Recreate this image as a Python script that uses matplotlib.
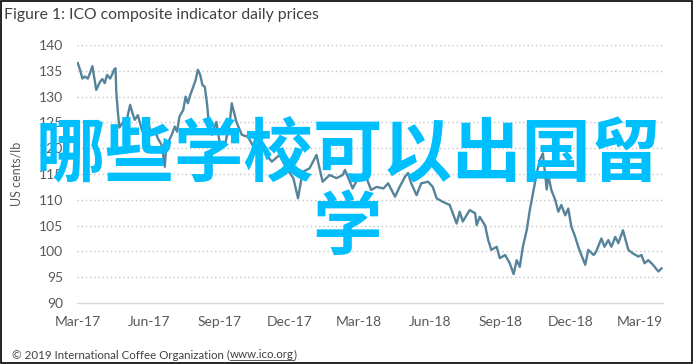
import matplotlib
matplotlib.use("Agg")
import matplotlib.pyplot as plt
import numpy as np
from matplotlib.patches import Rectangle

# ---- data ----
dates = [
    "2017-03-01", "2017-03-04", "2017-03-07", "2017-03-10", "2017-03-14", "2017-03-17",
    "2017-03-20", "2017-03-23", "2017-03-25", "2017-03-30", "2017-04-02", "2017-04-05",
    "2017-04-08", "2017-04-12", "2017-04-15", "2017-04-17", "2017-04-19", "2017-04-20",
    "2017-04-22", "2017-04-24", "2017-04-29", "2017-05-01", "2017-05-05", "2017-05-08",
    "2017-05-11", "2017-05-14", "2017-05-18", "2017-05-21", "2017-05-24", "2017-05-27",
    "2017-05-31", "2017-06-05", "2017-06-09", "2017-06-13", "2017-06-18", "2017-06-21",
    "2017-06-22", "2017-06-24", "2017-06-27", "2017-07-01", "2017-07-05", "2017-07-08",
    "2017-07-11", "2017-07-16", "2017-07-19", "2017-07-22", "2017-07-25", "2017-07-29",
    "2017-08-01", "2017-08-04", "2017-08-07", "2017-08-10", "2017-08-13", "2017-08-16",
    "2017-08-18", "2017-08-22", "2017-08-28", "2017-09-01", "2017-09-08", "2017-09-14",
    "2017-09-17", "2017-09-23", "2017-09-30", "2017-10-08", "2017-10-14", "2017-10-21",
    "2017-11-01", "2017-11-08", "2017-11-18", "2017-11-27", "2017-12-06", "2017-12-12",
    "2017-12-18", "2017-12-27", "2018-01-05", "2018-01-13", "2018-01-22", "2018-01-31",
    "2018-02-08", "2018-02-11", "2018-02-21", "2018-03-02", "2018-03-11", "2018-03-17",
    "2018-03-24", "2018-04-02", "2018-04-08", "2018-04-17", "2018-04-23", "2018-04-30",
    "2018-05-04", "2018-05-08", "2018-05-15", "2018-05-21", "2018-05-30", "2018-06-05",
    "2018-06-10", "2018-06-18", "2018-06-27", "2018-07-06", "2018-07-10", "2018-07-14",
    "2018-07-23", "2018-07-30", "2018-08-01", "2018-08-05", "2018-08-12", "2018-08-16",
    "2018-08-20", "2018-08-27", "2018-08-31", "2018-09-07", "2018-09-13", "2018-09-18",
    "2018-09-22", "2018-09-26", "2018-09-30", "2018-10-05", "2018-10-09", "2018-10-14",
    "2018-10-18", "2018-10-22", "2018-10-26", "2018-10-31", "2018-11-02", "2018-11-06",
    "2018-11-11", "2018-11-15", "2018-11-19", "2018-11-24", "2018-11-28", "2018-12-02",
    "2018-12-07", "2018-12-11", "2018-12-15", "2018-12-20", "2018-12-24", "2018-12-31",
    "2019-01-03", "2019-01-10", "2019-01-14", "2019-01-19", "2019-01-23", "2019-01-28",
    "2019-02-01", "2019-02-07", "2019-02-14", "2019-02-20", "2019-02-27", "2019-03-03",
    "2019-03-07", "2019-03-12", "2019-03-18", "2019-03-25", "2019-03-29",
]
prices = [
    136.5, 135.2, 133.5, 133.9, 133.5, 134.6,
    135.9, 133.2, 131.3, 132.9, 133.4, 132.6,
    134.2, 133.5, 134.4, 135.2, 135.5, 131.0,
    127.1, 124.0, 125.1, 123.2, 126.4, 128.4,
    126.8, 125.5, 126.4, 124.8, 123.2, 124.5,
    125.1, 122.6, 123.5, 121.9, 120.6, 117.4,
    116.4, 120.6, 121.3, 122.6, 124.2, 123.2,
    126.1, 127.4, 130.0, 128.7, 130.3, 131.9,
    133.2, 135.2, 134.2, 132.2, 131.9, 128.4,
    125.1, 122.6, 125.1, 121.3, 120.6, 124.5,
    128.7, 125.1, 122.6, 122.2, 120.6, 122.0,
    118.7, 117.4, 118.7, 116.1, 114.2, 110.3,
    115.4, 116.1, 118.7, 113.5, 114.8, 114.2,
    114.8, 115.8, 112.2, 114.8, 114.2, 111.9,
    112.5, 112.2, 113.2, 110.6, 112.5, 114.5,
    115.2, 113.2, 110.9, 113.2, 113.5, 112.5,
    110.3, 109.6, 109.0, 105.4, 107.7, 105.8,
    108.0, 107.4, 105.1, 106.7, 105.0, 102.2,
    100.3, 100.9, 98.7, 99.3, 97.7, 95.6,
    98.3, 97.0, 100.9, 104.1, 108.0, 111.9,
    115.1, 117.7, 119.0, 112.0, 114.8, 111.9,
    110.0, 107.7, 109.0, 107.0, 108.3, 104.8,
    102.8, 100.9, 99.3, 97.4, 100.3, 99.3,
    99.9, 102.5, 100.9, 102.2, 100.9, 102.8,
    101.6, 104.1, 100.3, 99.6, 99.0, 99.3,
    97.7, 98.3, 97.4, 96.1, 96.7,
]
tick_dates = ["2017-03-01", "2017-06-01", "2017-09-01", "2017-12-01", "2018-03-01",
              "2018-06-01", "2018-09-01", "2018-12-01", "2019-03-01"]
tick_labels = ["Mar-17", "Jun-17", "Sep-17", "Dec-17", "Mar-18",
               "Jun-18", "Sep-18", "Dec-18", "Mar-19"]
y_ticks = [90, 95, 100, 105, 110, 115, 120, 125, 130, 135, 140]

title = "Figure 1: ICO composite indicator daily prices"
ylabel = "US cents/lb"
footer = "\u00a9 2019 International Coffee Organization ("
footer_link = "www.ico.org"
overlay_line1 = "哪些学校可以出国留"
overlay_line2 = "学"

# ---- figure ----
plt.rcParams['font.family'] = ['Lato', 'DejaVu Sans']
W, H = 695, 364
fig = plt.figure(figsize=(W / 100, H / 100), dpi=100)
fig.patch.set_facecolor("white")

ax = fig.add_axes([77 / W, 1 - 303 / H, (663 - 77) / W, (303 - 45) / H])
x = np.array(dates, dtype="datetime64[D]")
ax.plot(x, prices, color="#55839a", lw=1.7, zorder=3, solid_joinstyle="round")

ax.set_ylim(90, 140)
ax.set_xlim(np.datetime64("2017-02-28"), np.datetime64("2019-03-31"))
ax.set_yticks(y_ticks)
ax.set_xticks(np.array(tick_dates, dtype="datetime64[D]"))
ax.set_xticklabels(tick_labels)
ax.tick_params(axis="both", length=0, labelsize=10, colors="#595959")
ax.tick_params(axis="y", pad=10)
ax.tick_params(axis="x", pad=9)
for s in ["top", "right", "left"]:
    ax.spines[s].set_visible(False)
ax.spines["bottom"].set_color("#d9d9d9")
ax.spines["bottom"].set_linewidth(1.0)
for yv in y_ticks[1:]:
    ax.axhline(yv, color="#c4c4c4", lw=1.0, ls=(0, (1, 2)), zorder=1)
ax.set_ylabel(ylabel, fontsize=9, color="#595959", labelpad=12)

# title and footer
fig.text(4 / W, 1 - 15 / H, title, fontsize=11.3, color="#404040", va="center", ha="left")
fs_f = 8.3
t = fig.text(12 / W, 1 - 355 / H, footer, fontsize=fs_f, color="#404040", va="center", ha="left")
fig.canvas.draw()
bb = t.get_window_extent()
t2 = fig.text(bb.x1 / W, 1 - 355 / H, footer_link, fontsize=fs_f, color="#404040",
              va="center", ha="left")
fig.canvas.draw()
bb2 = t2.get_window_extent()
t3 = fig.text(bb2.x1 / W, 1 - 355 / H, ")", fontsize=fs_f, color="#404040", va="center", ha="left")
fig.add_artist(plt.Line2D([bb2.x0 / W, bb2.x1 / W], [(bb2.y0 + 1) / H, (bb2.y0 + 1) / H],
                          color="#404040", lw=0.6, transform=fig.transFigure))

# overlay cyan text
cjk = ['Noto Sans CJK SC', 'DejaVu Sans']
fig.text(348 / W, 1 - 156 / H, overlay_line1, fontsize=50, color="#00bfff", family=cjk,
         weight="bold", ha="center", va="center", zorder=10)
fig.text(347 / W, 1 - 229 / H, overlay_line2, fontsize=50, color="#00bfff", family=cjk,
         weight="bold", ha="center", va="center", zorder=10)

# frame
fig.add_artist(Rectangle((0.5 / W, 1.5 / H), 691 / W, (H - 2) / H, fill=False,
                         edgecolor="black", lw=1.2, transform=fig.transFigure))

fig.savefig("out.png", dpi=100)
